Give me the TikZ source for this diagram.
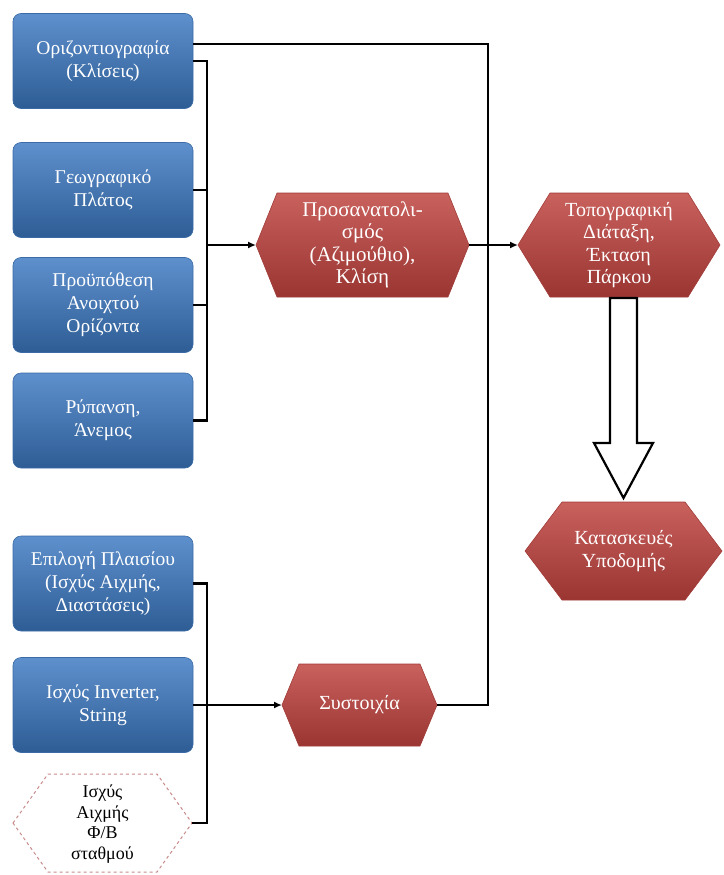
\documentclass[tikz,border=0pt]{standalone}
\usepackage{fontspec}
\setmainfont{Liberation Serif}
\usetikzlibrary{arrows.meta,calc}
\definecolor{bluetop}{HTML}{5E90CD}
\definecolor{bluebot}{HTML}{2E5D95}
\definecolor{blueedge}{HTML}{3B6BA6}
\definecolor{redtop}{HTML}{C9615D}
\definecolor{redbot}{HTML}{9A3532}
\definecolor{rededge}{HTML}{A13C39}
\definecolor{dashpink}{HTML}{C98A8A}
\tikzset{
  bluebox/.style={rectangle, rounded corners=8pt, minimum width=180pt, minimum height=95pt,
    inner sep=2pt, top color=bluetop, bottom color=bluebot, draw=blueedge, line width=0.6pt,
    text=white, align=center, font=\fontsize{19.5}{23}\selectfont},
  hexfill/.style={top color=redtop, bottom color=redbot, draw=rededge, line width=0.6pt},
  hexdash/.style={fill=white, draw=dashpink, dashed, line width=1pt},
  hextext/.style={text=white, align=center, inner sep=1pt, font=\fontsize{20}{22.5}\selectfont},
  hexdtext/.style={text=black, align=center, inner sep=1pt, font=\fontsize{18}{20.5}\selectfont},
  conn/.style={line width=2.4pt, draw=black},
  arr/.style={conn, -{Latex[length=8pt,width=7pt]}},
  hollow/.style={fill=white, draw=black, line width=2.2pt, line join=miter}
}
% #1 name, #2 cx, #3 cy, #4 half width, #5 half height, #6 slant, #7 path style
\newcommand\hexpath[7]{%
  \path[#7] (#2-#4,#3) -- (#2-#4+#6,#3-#5) -- (#2+#4-#6,#3-#5) -- (#2+#4,#3)
     -- (#2+#4-#6,#3+#5) -- (#2-#4+#6,#3+#5) -- cycle;
  \coordinate (#1-w) at (#2-#4,#3);
  \coordinate (#1-e) at (#2+#4,#3);
  \coordinate (#1-n) at (#2,#3-#5);
  \coordinate (#1-s) at (#2,#3+#5);
}
\begin{document}
\begin{tikzpicture}[x=1pt,y=-1pt]
\useasboundingbox (0,0) rectangle (723,875);

% blue boxes
\node[bluebox] (b1) at (103,61) {Οριζοντιογραφία\\(Κλίσεις)};
\node[bluebox] (b2) at (103,190) {Γεωγραφικό\\Πλάτος};
\node[bluebox] (b3) at (103,305) {Προϋπόθεση\\Ανοιχτού\\Ορίζοντα};
\node[bluebox] (b4) at (103,420.5) {Ρύπανση,\\Άνεμος};
\node[bluebox] (b5) at (103,583.5) {Επιλογή Πλαισίου\\(Ισχύς Αιχμής,\\Διαστάσεις)};
\node[bluebox] (b6) at (103,705) {Ισχύς Inverter,\\String};

% hexagons
\hexpath{or}{362.5}{245}{106.5}{52}{21}{hexfill}
\node[hextext, font=\fontsize{21}{22.5}\selectfont] (or) at (362.5,245) {Προσανατολι-\\σμός\\(Αζιμούθιο),\\Κλίση};

\hexpath{topo}{619}{245}{101}{52}{32}{hexfill}
\node[hextext] (topo) at (619,245) {Τοπογραφική\\Διάταξη,\\Έκταση\\Πάρκου};

\hexpath{kat}{623.5}{551}{98.5}{49}{37}{hexfill}
\node[hextext] (kat) at (623.5,551) {Κατασκευές\\Υποδομής};

\hexpath{sys}{359.5}{705}{77.5}{41}{17}{hexfill}
\node[hextext] (sys) at (359.5,705) {Συστοιχία};

\hexpath{aix}{102.5}{823}{89.5}{49}{35}{hexdash}
\node[hexdtext] (aix) at (102.5,824) {Ισχύς\\Αιχμής\\Φ/Β\\σταθμού};

% upper-left bracket
\coordinate (lb1) at (207,61);
\coordinate (lb4) at (207,420.5);
\draw[conn] (b1.east) -- (lb1) -- (lb4) -- (b4.east);
\draw[conn] (b2.east) -- (b2.east -| lb1);
\draw[conn] (b3.east) -- (b3.east -| lb1);
\draw[arr] (or-w -| lb1) -- (or-w);

% lower-left bracket
\coordinate (lb5) at (207,583.5);
\coordinate (lb7) at (207,823);
\draw[conn] (b5.east) -- (lb5) -- (lb7) -- (aix-e);
\draw[arr] (b6.east) -- (sys-w);

% right trunk
\coordinate (trunk) at (488,705);
\draw[conn] ([yshift=17pt]b1.east) -| (trunk) -- (sys-e);
\draw[conn] (or-e) -- (or-e -| trunk);
\draw[arr] (or-e -| trunk) -- (topo-w);

% hollow block arrow
\path[hollow] (610,298) -- (637,298) -- (637,443) -- (653,443) -- (623.5,498)
   -- (594,443) -- (610,443) -- cycle;
\end{tikzpicture}
\end{document}
